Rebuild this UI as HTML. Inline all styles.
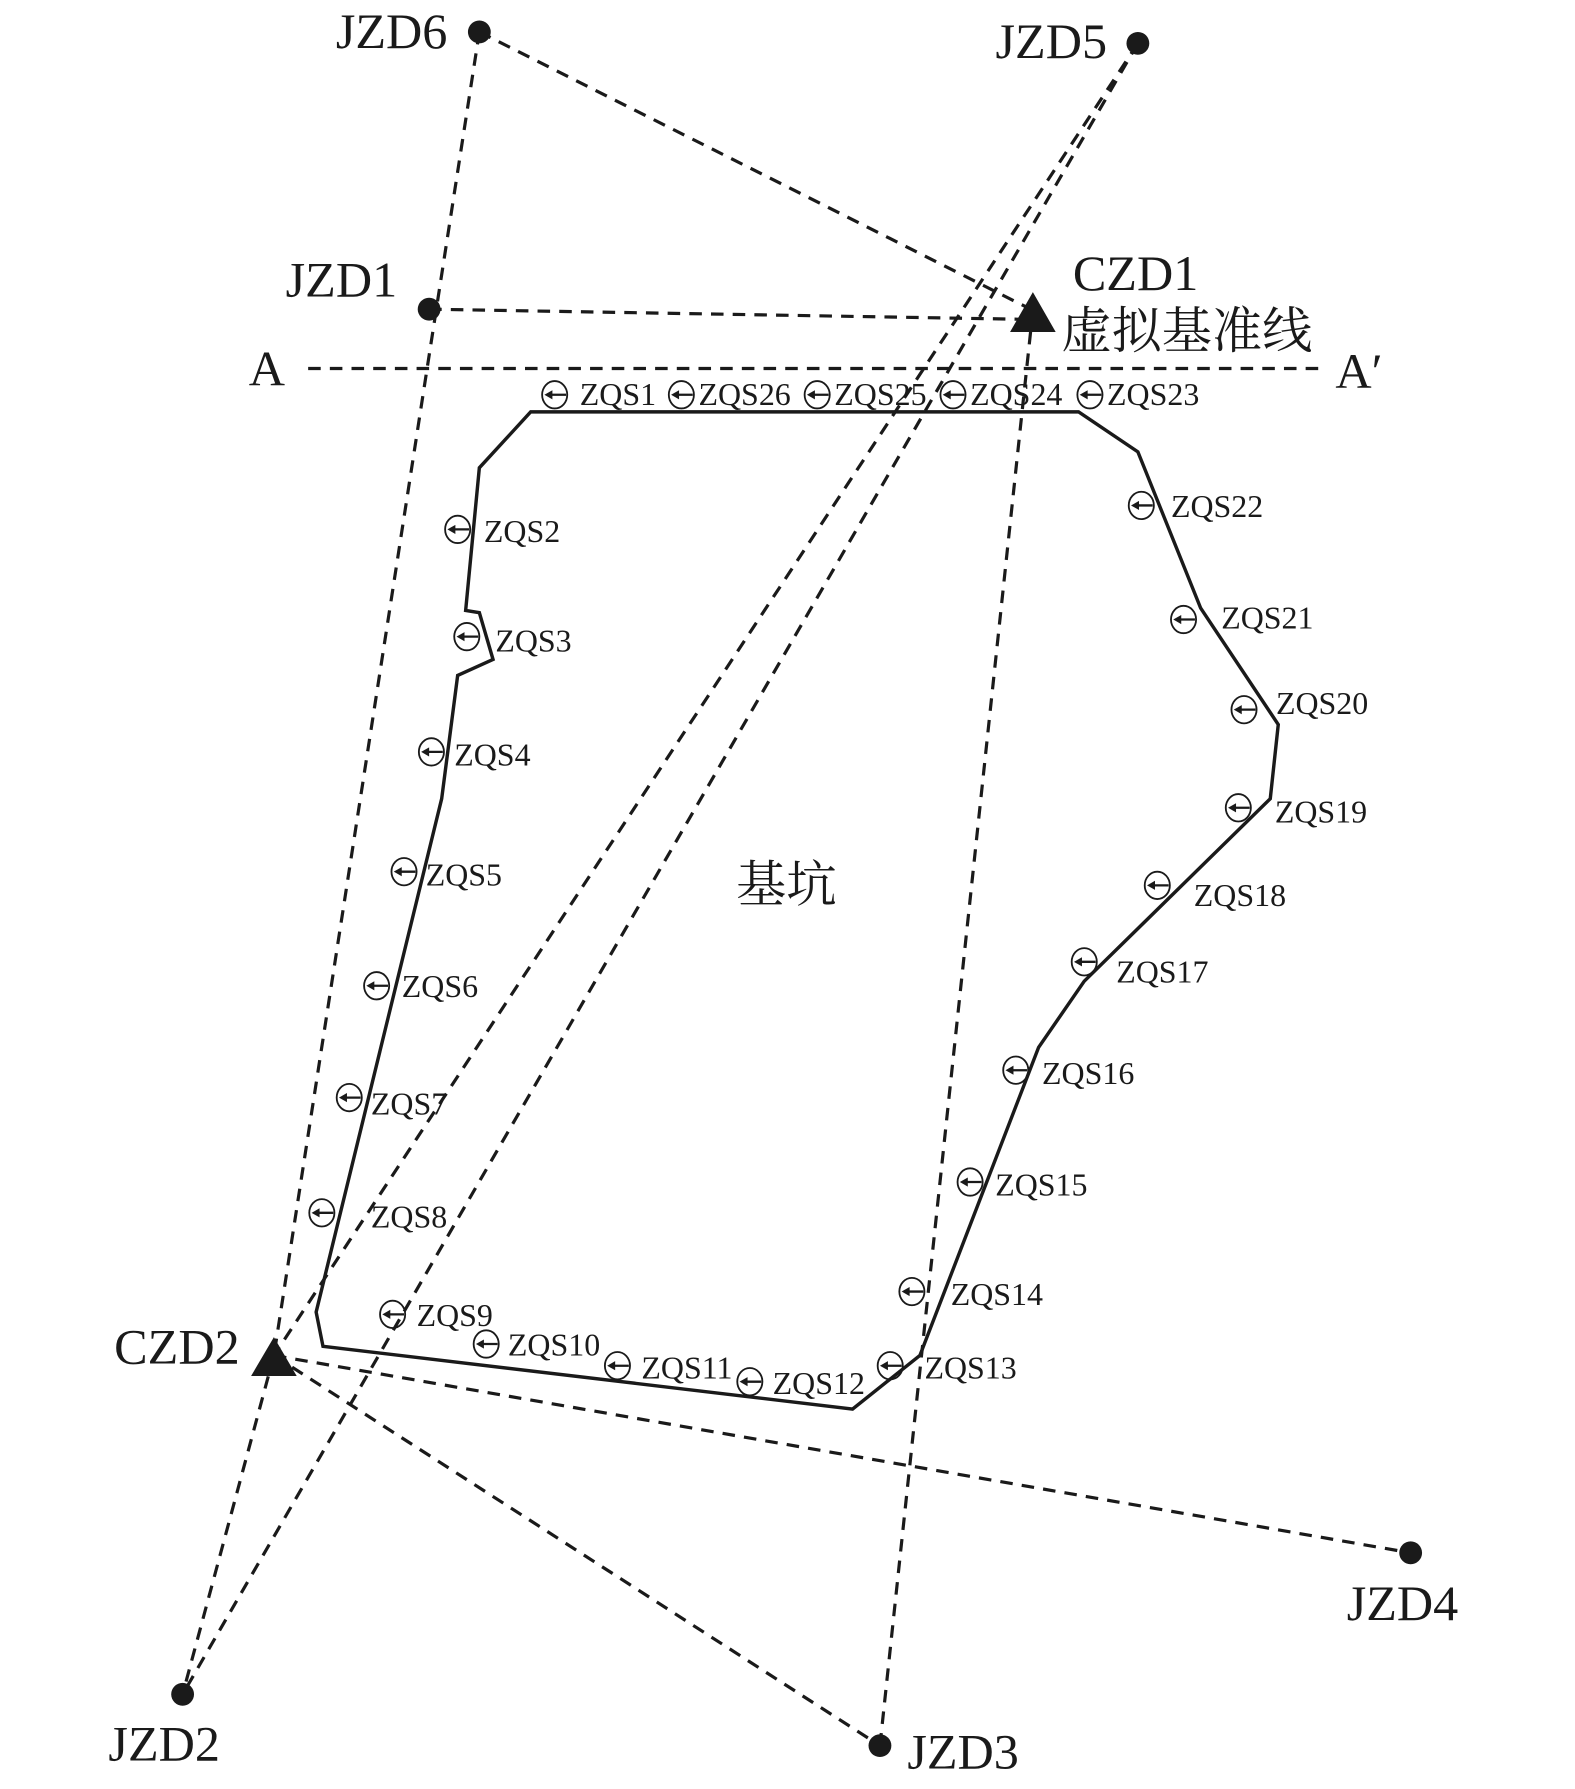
<!DOCTYPE html>
<html><head><meta charset="utf-8"><style>
html,body{margin:0;padding:0;background:#fff;}
svg{display:block;}
text{font-family:"Liberation Serif","Noto Serif CJK SC",serif;fill:#1a1a1a;}
</style></head><body>
<svg width="1575" height="1789" viewBox="0 0 1380 1568" preserveAspectRatio="none" xmlns="http://www.w3.org/2000/svg">
<defs>
<g id="m"><ellipse cx="0" cy="0" rx="11" ry="12" fill="none" stroke="#1a1a1a" stroke-width="1.6"/><line x1="-6" y1="0" x2="10" y2="0" stroke="#1a1a1a" stroke-width="2"/><path d="M-9 0 L-2 -4 L-2 4 Z" fill="#1a1a1a"/></g>
</defs>
<g stroke="#1a1a1a" stroke-width="2.8" stroke-dasharray="11,8" fill="none">
<line x1="420" y1="28" x2="905" y2="272"/>
<line x1="420" y1="28" x2="240" y2="1188"/>
<line x1="376" y1="271" x2="905" y2="280"/>
<line x1="997" y1="38" x2="240" y2="1188"/>
<line x1="997" y1="38" x2="160" y2="1485"/>
<line x1="905" y1="272" x2="771" y2="1530"/>
<line x1="240" y1="1188" x2="771" y2="1530"/>
<line x1="240" y1="1188" x2="1236" y2="1361"/>
<line x1="240" y1="1188" x2="160" y2="1485"/>
<line x1="270" y1="323" x2="1162" y2="323"/>
</g>
<polygon points="465,361 945,361 997,396 1052,533 1120,635 1113,700 950,860 910,918 806,1188 747,1235 283,1180 277,1150 387,700 401,592 432,578 420,537 408,535 420,410" fill="none" stroke="#1a1a1a" stroke-width="3"/>
<g fill="#1a1a1a">
<circle cx="420" cy="28" r="10"/><circle cx="997" cy="38" r="10"/><circle cx="376" cy="271" r="10"/>
<circle cx="160" cy="1485" r="10"/><circle cx="771" cy="1530" r="10"/><circle cx="1236" cy="1361" r="10"/>
<path d="M905 256 L925 291 L885 291 Z"/><path d="M240 1172 L260 1206 L220 1206 Z"/>
</g>
<g font-size="44">
<text x="392" y="42" text-anchor="end">JZD6</text>
<text x="970" y="51" text-anchor="end">JZD5</text>
<text x="348" y="260" text-anchor="end">JZD1</text>
<text x="940" y="254">CZD1</text>
<text x="930" y="305">虚拟基准线</text>
<text x="218" y="338">A</text>
<text x="1170" y="340">A′</text>
<text x="210" y="1195" text-anchor="end">CZD2</text>
<text x="95" y="1543">JZD2</text>
<text x="795" y="1550">JZD3</text>
<text x="1180" y="1420">JZD4</text>
<text x="645" y="790">基坑</text>
</g>
<g font-size="28">
<use href="#m" x="486" y="346"/><text x="508" y="355">ZQS1</text>
<use href="#m" x="597" y="346"/><text x="612" y="355">ZQS26</text>
<use href="#m" x="716" y="346"/><text x="731" y="355">ZQS25</text>
<use href="#m" x="835" y="346"/><text x="850" y="355">ZQS24</text>
<use href="#m" x="955" y="346"/><text x="970" y="355">ZQS23</text>
<use href="#m" x="1000" y="443"/><text x="1026" y="453">ZQS22</text>
<use href="#m" x="1037" y="543"/><text x="1070" y="551">ZQS21</text>
<use href="#m" x="1090" y="622"/><text x="1118" y="626">ZQS20</text>
<use href="#m" x="1085" y="708"/><text x="1117" y="721">ZQS19</text>
<use href="#m" x="1014" y="776"/><text x="1046" y="794">ZQS18</text>
<use href="#m" x="950" y="843"/><text x="978" y="861">ZQS17</text>
<use href="#m" x="890" y="938"/><text x="913" y="950">ZQS16</text>
<use href="#m" x="850" y="1036"/><text x="872" y="1048">ZQS15</text>
<use href="#m" x="799" y="1132"/><text x="833" y="1144">ZQS14</text>
<use href="#m" x="780" y="1197"/><text x="810" y="1208">ZQS13</text>
<use href="#m" x="657" y="1211"/><text x="677" y="1222">ZQS12</text>
<use href="#m" x="541" y="1197"/><text x="562" y="1208">ZQS11</text>
<use href="#m" x="426" y="1178"/><text x="445" y="1188">ZQS10</text>
<use href="#m" x="344" y="1152"/><text x="365" y="1162">ZQS9</text>
<use href="#m" x="282" y="1063"/><text x="325" y="1076">ZQS8</text>
<use href="#m" x="306" y="962"/><text x="325" y="977">ZQS7</text>
<use href="#m" x="330" y="864"/><text x="352" y="874">ZQS6</text>
<use href="#m" x="354" y="764"/><text x="373" y="776">ZQS5</text>
<use href="#m" x="378" y="659"/><text x="398" y="671">ZQS4</text>
<use href="#m" x="409" y="558"/><text x="434" y="571">ZQS3</text>
<use href="#m" x="401" y="464"/><text x="424" y="475">ZQS2</text>
</g>
</svg>
</body></html>
